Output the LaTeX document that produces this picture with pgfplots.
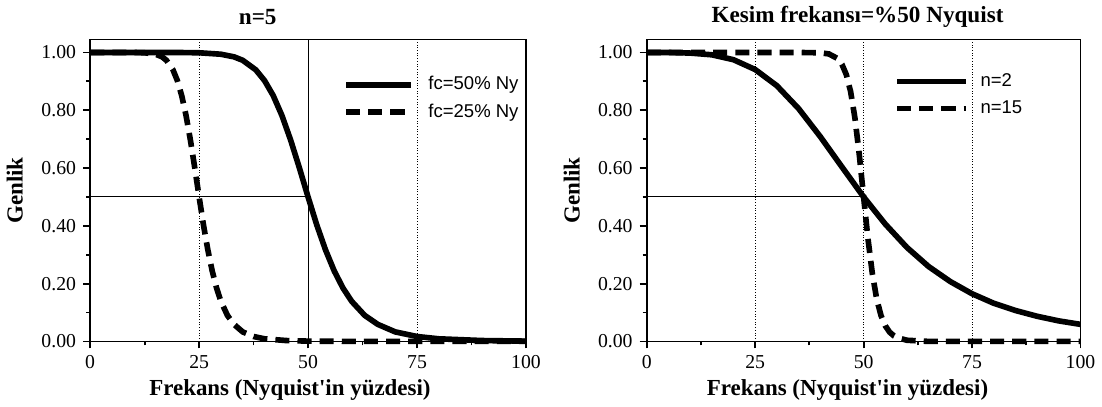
\documentclass[border=0pt]{standalone}
\usepackage{fontspec}
\setmainfont{Liberation Serif}
\newfontfamily\legfont{Liberation Sans}
\usepackage{pgfplots}
\pgfplotsset{compat=1.18}

% Butterworth-like magnitude curves
\pgfplotstableread{
f     y
0     1.000
10    1.000
20    1.000
25    0.999
30    0.994
33    0.985
35    0.973
38    0.940
40    0.903
42    0.851
44    0.782
46    0.697
48    0.601
50    0.500
52    0.403
54    0.317
56    0.244
58    0.185
60    0.139
63    0.090
66    0.059
70    0.033
75    0.017
80    0.009
90    0.003
100   0.001
}\lefta
\pgfplotstableread{
f     y
0     1.000
10    1.000
12.5  0.999
15    0.994
16.5  0.985
17.5  0.973
19    0.940
20    0.903
21    0.851
22    0.782
23    0.697
24    0.601
25    0.500
26    0.403
27    0.317
28    0.244
29    0.185
30    0.139
31.5  0.090
33    0.059
35    0.033
37.5  0.017
40    0.009
45    0.003
50    0.001
60    0.000
100   0.000
}\leftb
\pgfplotstableread{
f     y
0     1.000
5     1.000
10    0.998
15    0.992
20    0.975
25    0.941
30    0.885
35    0.806
40    0.709
45    0.604
50    0.500
55    0.406
60    0.325
65    0.259
70    0.207
75    0.165
80    0.132
85    0.107
90    0.087
95    0.071
100   0.059
}\righta
\pgfplotstableread{
f     y
0     1.000
30    1.000
35    1.000
40    0.999
42    0.995
44    0.979
45    0.959
46    0.924
47    0.865
48    0.773
49    0.647
50    0.500
51    0.356
52    0.236
53    0.148
54    0.090
55    0.054
56    0.032
57    0.019
58    0.012
60    0.004
65    0.000
100   0.000
}\rightb

\pgfplotsset{
  filt/.style={
    scale only axis, width=216.5pt, height=150pt,
    xmin=0, xmax=100, ymin=0, ymax=1.045,
    xtick={0,25,50,75,100}, minor xtick={12.5,37.5,62.5,87.5},
    ytick={0,0.2,0.4,0.6,0.8,1}, minor ytick={0.1,0.3,0.5,0.7,0.9},
    tick align=outside, xtick pos=bottom, ytick pos=left,
    major tick length=3.5pt, minor tick length=2pt,
    tick style={black, line width=0.9pt},
    axis line style={line width=0.9pt},
    yticklabel style={/pgf/number format/fixed, /pgf/number format/fixed zerofill, /pgf/number format/precision=2},
    /pgf/number format/assume math mode=true,
    ticklabel style={font=\fontsize{9.8}{11}\selectfont},
    xlabel style={font=\bfseries\fontsize{11.4}{13}\selectfont,
      at={(axis description cs:0.5,0)}, anchor=center, yshift=-24pt},
    ylabel style={font=\bfseries\fontsize{11.4}{13}\selectfont,
      at={(axis description cs:-0.173,0.5)}, anchor=center},
    title style={font=\bfseries\fontsize{11.5}{13}\selectfont,
      at={(axis description cs:0.5,1)}, anchor=center, yshift=5pt},
    xlabel={Frekans (Nyquist\textquotesingle in yüzdesi)},
    ylabel={Genlik},
    legend style={draw=none, fill=none, font=\legfont\fontsize{9.2}{10}\selectfont,
      anchor=north west, inner sep=0pt, row sep=3.5pt, nodes={inner sep=1pt}},
    legend cell align=left,
    clip=false,
  },
  curve/.style={black, line width=2.8pt, line join=round},
  dcurve/.style={black, line width=2.8pt, dash pattern=on 7pt off 4pt},
  gridv/.style={black, line width=0.35pt, densely dotted},
  gridh/.style={black, line width=0.45pt},
}

\begin{document}
\begin{tikzpicture}
  \begin{axis}[filt, title={n=5},
      title style={xshift=-25pt},
      xlabel style={xshift=-9pt},
      legend image code/.code={\draw[#1] (0pt,0pt) -- (32pt,0pt); \path (38.5pt,0pt);},
      legend style={at={(axis cs:58.0,0.925)}}]
    \addplot[gridv, forget plot] coordinates {(25,0) (25,1.045)};
    \addplot[gridh, forget plot] coordinates {(50,0) (50,1.045)};
    \addplot[gridv, forget plot] coordinates {(75,0) (75,1.045)};
    \addplot[gridh, forget plot] coordinates {(0,0.5) (50,0.5)};
    \addplot[curve] table[x=f, y=y] {\lefta};
    \addplot[dcurve] table[x=f, y=y] {\leftb};
    \legend{fc=50\% Ny, fc=25\% Ny}
  \end{axis}
  \begin{axis}[filt, xshift=276.5pt, width=215.5pt, title={Kesim frekansı=\%50 Nyquist},
      title style={xshift=-3pt},
      xlabel style={xshift=-8pt},
      legend image code/.code={\draw[#1] (0pt,0pt) -- (34pt,0pt); \path (39pt,0pt);},
      legend style={at={(axis cs:57.0,0.935)}}]
    \addplot[gridv, forget plot] coordinates {(25,0) (25,1.045)};
    \addplot[gridv, forget plot] coordinates {(50,0) (50,1.045)};
    \addplot[gridv, forget plot] coordinates {(75,0) (75,1.045)};
    \addplot[gridh, forget plot] coordinates {(0,0.5) (50,0.5)};
    \addplot[curve] table[x=f, y=y] {\righta};
    \addplot[dcurve] table[x=f, y=y] {\rightb};
    \legend{n=2, n=15}
  \end{axis}
\end{tikzpicture}
\end{document}
